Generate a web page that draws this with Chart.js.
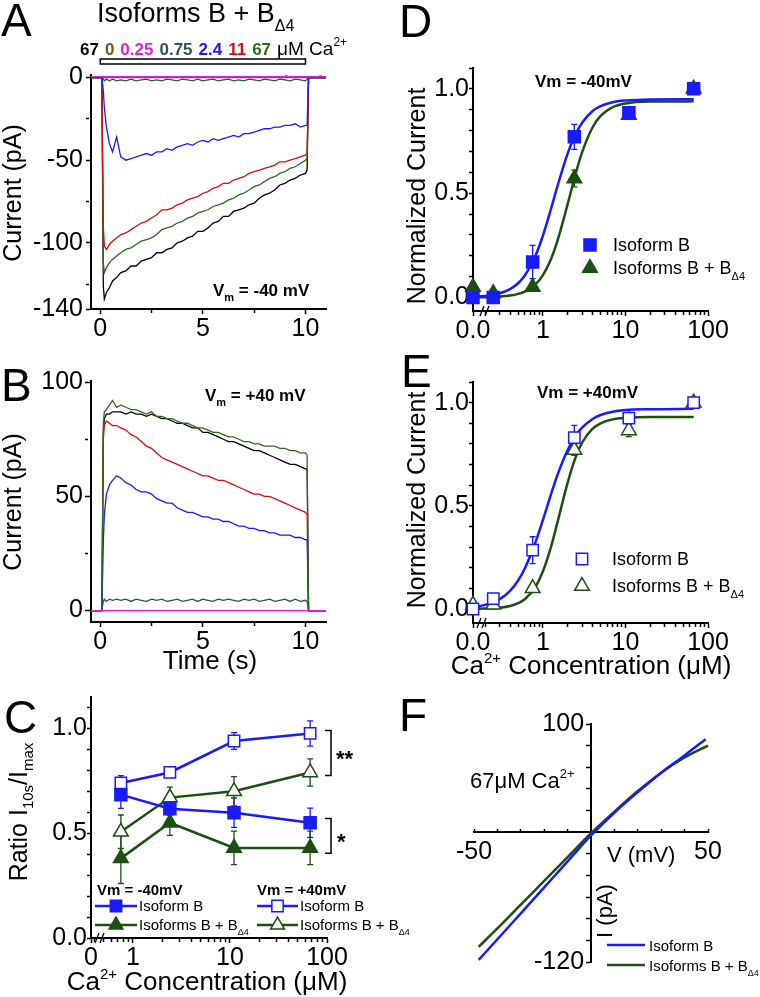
<!DOCTYPE html>
<html>
<head>
<meta charset="utf-8">
<title>Isoforms B + BΔ4</title>
<script src="https://cdn.jsdelivr.net/npm/chart.js@4.4.1/dist/chart.umd.min.js"></script>
<style>
  html, body { margin: 0; padding: 0; background: #fff; }
  #fig { position: relative; width: 760px; height: 997px; overflow: hidden; }
  #fig canvas { position: absolute; left: 0; top: 0; }
</style>
</head>
<body>
<div id="fig">
  <canvas id="panelA" width="760" height="997"></canvas>
  <canvas id="panelB" width="760" height="997"></canvas>
  <canvas id="panelC" width="760" height="997"></canvas>
  <canvas id="panelD" width="760" height="997"></canvas>
  <canvas id="panelE" width="760" height="997"></canvas>
  <canvas id="panelF" width="760" height="997"></canvas>
</div>
<script>
// ---- traces, panels A and B (time in s, current in pA) ----
const timeS = [-0.45, 0.08, 0.15, 0.2, 0.3, 0.45, 0.6, 0.8,
  1, 1.25, 1.5, 1.75, 2, 2.25, 2.5, 2.75, 3, 3.25, 3.5, 3.75, 4, 4.25, 4.5, 4.75, 5,
  5.25, 5.5, 5.75, 6, 6.25, 6.5, 6.75, 7, 7.25, 7.5, 7.75, 8, 8.25, 8.5, 8.75, 9,
  9.25, 9.5, 9.75, 10, 10.08, 10.15, 11];
const a_black67 = [0, 0, -126, -134, -130, -127, -123, -121,
  -118, -117, -114, -114, -111, -110, -109, -106, -106, -104, -103, -100, -99, -97, -96, -93, -93,
  -91, -88, -87, -84, -84, -81, -80, -79, -77, -76, -73, -71, -70, -68, -65, -64,
  -62, -61, -59, -58, -56, 0, 0];
const a_green67 = [0, 0, -112, -118, -115, -112, -110, -108,
  -106, -104, -103, -101, -99, -98, -97, -95, -92, -91, -90, -88, -87, -85, -84, -82, -81,
  -80, -78, -77, -76, -74, -73, -71, -70, -68, -66, -65, -63, -61, -60, -58, -57,
  -55, -54, -52, -50, -49, 0, 0];
const a_red11 = [0, 0, -90, -102, -104, -101, -99, -97,
  -95, -94, -92, -90, -88, -87, -85, -83, -80, -80, -79, -77, -76, -74, -73, -72, -70,
  -69, -67, -66, -64, -64, -62, -61, -60, -58, -57, -56, -55, -54, -53, -51, -51,
  -50, -49, -48, -47, -46, 0, 0];
const a_blue24 = [0, 0, -8, -18, -30, -40, -45, -36,
  -48, -50, -49, -48, -47, -46, -47, -45, -45, -43, -44, -42, -41, -40, -41, -39, -38,
  -39, -37, -38, -37, -36, -35, -36, -34, -34, -33, -32, -31, -31, -30, -30, -29,
  -29, -28, -30, -29, -29, 0, 0];
const a_teal075 = [0, 0, -1, -2, -1, -2, -1, -2,
  -1.5, -2, -1, -2, -1.5, -1, -2, -1.5, -2, -1, -1.5, -2, -1, -1.5, -2, -1, -2,
  -1.5, -1, -2, -1.5, -1, -2, -1.5, -2, -1, -1.5, -2, -1, -1.5, -2, -1, -1.5,
  -2, -1, -1.5, -2, -1, 0, 0];
const flatT = [-0.45, 11];
const a_olive0 = [0, 0];
const magT = [-0.45, 9.03, 9.06, 9.09, 10.7, 10.73, 10.76, 11];
const a_magenta025 = [0.5, 0.5, 5, 0.5, 0.5, 3, 0.5, 0.5];

const b_black67 = [0, 0, 78, 84, 86, 86, 87, 87,
  87, 86, 87, 86, 86, 85, 86, 85, 84, 84, 83, 82, 82, 81, 80, 80, 78,
  78, 77, 76, 75, 74, 74, 73, 72, 71, 70, 70, 69, 68, 67, 66, 65,
  64, 64, 63, 62, 62, 0, 0];
const b_green67 = [0, 0, 82, 87, 88, 90, 92, 89,
  90, 89, 88, 88, 87, 86, 87, 85, 85, 84, 84, 83, 82, 82, 81, 80, 80,
  79, 78, 78, 77, 76, 76, 75, 74, 74, 73, 73, 72, 72, 72, 71, 71,
  70, 70, 69, 69, 68, 0, 0];
const b_red11 = [0, 0, 75, 81, 83, 82, 81, 81,
  80, 79, 77, 76, 74, 72, 71, 69, 67, 66, 65, 64, 63, 62, 61, 60, 59,
  59, 58, 57, 57, 56, 55, 54, 53, 52, 51, 51, 50, 50, 49, 48, 47,
  46, 45, 44, 43, 42, 0, 0];
const b_blue24 = [0, 0, 30, 42, 51, 55, 57, 59,
  58, 56, 55, 53, 52, 52, 51, 49, 48, 47, 47, 45, 44, 43, 43, 42, 41,
  41, 40, 40, 39, 39, 38, 37, 37, 36, 36, 35, 35, 34, 34, 33, 33,
  33, 32, 32, 31, 31, 0, 0];
const b_teal075 = [0, 0, 4, 5, 4, 5, 4.5, 5,
  4.5, 5, 4, 5, 4.5, 4, 5, 4.5, 5, 4, 4.5, 5, 4, 4.5, 5, 4, 5,
  4.5, 4, 5, 4.5, 5, 4.5, 4, 5, 4.5, 5, 4, 4.5, 5, 4, 4.5, 5,
  4, 5, 4, 4.5, 4, 0, 0];
const b_olive0 = [0, 0];
const b_magenta025 = [0, 0];

const bathConc = ['67', '0', '0.25', '0.75', '2.4', '11', '67'];
const bathColors = ['#000', '#6e5e12', '#dd22dd', '#2b5555', '#1a1aff', '#d01010', '#2e6b1e'];

// ---- panel C: ratio I10s/Imax ----
const concC = [0.75, 2.4, 11, 67];
const ratioB_neg = [0.684, 0.617, 0.598, 0.55];
const errB_neg = [0.065, 0.03, 0.07, 0.07];
const ratioB_pos = [0.74, 0.79, 0.94, 0.976];
const errB_pos = [0.035, 0.01, 0.04, 0.06];
const ratioBD_neg = [0.38, 0.55, 0.43, 0.43];
const errBD_neg = [0.12, 0.06, 0.08, 0.08];
const ratioBD_pos = [0.507, 0.67, 0.70, 0.79];
const errBD_pos = [0.08, 0.05, 0.07, 0.065];

// ---- panels D and E: normalized current (0 is drawn at the axis break) ----
const concDE = [0, 0.25, 0.75, 2.4, 11, 67];
const normD_B = [0.0, 0.0, 0.17, 0.77, 0.885, 1.0];
const errD_B = [0, 0, 0.08, 0.06, 0.015, 0];
const normD_BD = [0.05, 0.02, 0.05, 0.57, 0.875, 1.0];
const errD_BD = [0, 0, 0.01, 0.04, 0.02, 0];
const normE_B = [0.0, 0.05, 0.285, 0.83, 0.925, 1.0];
const errE_B = [0, 0, 0.065, 0.06, 0.04, 0];
const normE_BD = [0.02, 0.02, 0.10, 0.77, 0.865, 1.0];
const errE_BD = [0, 0, 0.01, 0.025, 0.03, 0];
const fitConc = [0, 0.2, 0.3, 0.4, 0.5, 0.6, 0.8, 1, 1.25, 1.5, 2, 2.5, 3, 4, 5, 7, 10, 20, 67];
const fitD_B = [0.003, 0.007, 0.020, 0.040, 0.068, 0.104, 0.194, 0.297, 0.424, 0.534, 0.692, 0.785, 0.839, 0.894, 0.917, 0.936, 0.944, 0.949, 0.95];
const fitD_BD = [0.0005, 0.0013, 0.004, 0.009, 0.017, 0.028, 0.060, 0.107, 0.183, 0.272, 0.450, 0.596, 0.699, 0.816, 0.870, 0.912, 0.930, 0.939, 0.94];
const fitE_B = [0.009, 0.020, 0.048, 0.088, 0.138, 0.195, 0.316, 0.432, 0.555, 0.650, 0.772, 0.841, 0.880, 0.921, 0.940, 0.956, 0.964, 0.968, 0.97];
const fitE_BD = [0.001, 0.002, 0.006, 0.014, 0.028, 0.047, 0.103, 0.183, 0.300, 0.420, 0.615, 0.737, 0.808, 0.874, 0.900, 0.919, 0.926, 0.930, 0.93];

// ---- panel F: I-V at 67 uM Ca2+ ----
const ivV = [-48, -40, -30, -20, -10, 0, 10, 20, 30, 40, 49];
const ivB = [-118, -99, -75, -51, -27, -3, 18, 37, 55, 71, 86];
const ivV_BD = [-48, -40, -30, -20, -10, 0, 10, 20, 30, 40, 50];
const ivBD = [-106, -89, -67, -45, -23, -1, 19, 38, 55, 69, 80];

// ---- tick values and labels ----
const ticksTime = [0, 5, 10], ticksTimeLbl = ['0', '5', '10'], minorTime = [2.5, 7.5];
const ticksA = [0, -50, -100, -140], ticksALbl = ['0', '-50', '-100', '-140'], minorA = [-25, -75, -125];
const ticksB = [0, 50, 100], ticksBLbl = ['0', '50', '100'], minorB = [25, 75];
const ticksNorm = [0, 0.5, 1], ticksNormLbl = ['0.0', '0.5', '1.0'];
const minorNorm = [0.1, 0.2, 0.3, 0.4, 0.6, 0.7, 0.8, 0.9, 1.1];
const minorLog = [0.2, 0.3, 0.4, 0.5, 0.6, 0.7, 0.8, 0.9, 2, 3, 4, 5, 6, 7, 8, 9, 20, 30, 40, 50, 60, 70, 80, 90];
const ticksV = [-50, 50], ticksVLbl = ['-50', '50'], minorV = [-40, -30, -20, -10, 10, 20, 30, 40];
const ticksI = [100, -120], ticksILbl = ['100 ', '-120 '], minorI = [-100, -80, -60, -40, -20, 20, 40, 60, 80];

const FONT = "'Liberation Sans', Arial, Helvetica, sans-serif";
Chart.defaults.font.family = FONT;
Chart.defaults.color = '#000';

const BLUE = '#1a1aff', GREEN = '#1d4f12';
const LOGMIN_C = 0.369, LOGMIN_DE = 0.142;

const xy = (xs, ys) => xs.map((x, i) => ({x: x, y: ys[i]}));
const atMin = (xs, min) => xs.map(x => (x === 0 ? min : x));

function trace(xs, ys, color) {
  return {data: xy(xs, ys), borderColor: color, borderWidth: 1.3, pointRadius: 0, tension: 0};
}

function marks(xs, ys, color, style, filled, r, line) {
  return {
    data: xy(xs, ys), showLine: line, borderColor: color, borderWidth: 2.5,
    pointStyle: style, pointRadius: r, pointBackgroundColor: filled ? color : '#fff',
    pointBorderColor: color, pointBorderWidth: 1.5, tension: 0, clip: false
  };
}

function curve(xs, ys, color) {
  return {data: xy(xs, ys), borderColor: color, borderWidth: 2.5, pointRadius: 0,
    cubicInterpolationMode: 'monotone', clip: false};
}

// chart area in page pixels -> layout padding (y axis box yw wide, x axis box xh high)
function frame(l, t, r, b, yw, xh) {
  return {left: l - yw, top: t, right: 760 - r, bottom: 997 - b - xh};
}

function axis(o) {
  const isY = o.axis === 'y';
  return {
    type: o.type || 'linear',
    position: o.position || (isY ? 'left' : 'bottom'),
    min: o.min, max: o.max, bounds: 'data',
    afterBuildTicks: s => { s.ticks = o.major.concat(o.minor).map(v => ({value: v})); },
    afterFit: s => { if (isY) s.width = o.size; else s.height = o.size; },
    border: {display: true, color: '#000', width: 2},
    grid: {
      drawOnChartArea: false, drawTicks: true, tickLength: o.tick, tickColor: '#000', tickWidth: 1.5,
      tickBorderDash: c => (o.even || (c.tick && o.major.includes(c.tick.value))) ? [] : [3, 30]
    },
    ticks: {
      autoSkip: false, maxRotation: 0, padding: o.pad, color: '#000', font: {size: o.font || 25},
      callback: v => { const i = o.major.indexOf(v); return i < 0 ? '' : o.labels[i]; }
    }
  };
}

function base(padding, scales, errSets) {
  return {
    responsive: false, animation: false, devicePixelRatio: 1,
    layout: {padding: padding},
    plugins: {legend: {display: false}, tooltip: {enabled: false}, errorBars: {sets: errSets || []}},
    scales: scales
  };
}

// vertical error bars from the value arrays, drawn under the markers
const errorBars = {
  id: 'errorBars',
  beforeDatasetsDraw(chart, args, opts) {
    const ctx = chart.ctx, ys = chart.scales.y;
    (opts.sets || []).forEach(s => {
      const meta = chart.getDatasetMeta(s.ds);
      const data = chart.data.datasets[s.ds].data;
      ctx.save();
      ctx.strokeStyle = s.color;
      ctx.lineWidth = 1.3;
      meta.data.forEach((pt, i) => {
        const e = s.err[i];
        if (!e) return;
        const y1 = ys.getPixelForValue(data[i].y - e), y2 = ys.getPixelForValue(data[i].y + e);
        ctx.beginPath();
        ctx.moveTo(pt.x, y1); ctx.lineTo(pt.x, y2);
        ctx.moveTo(pt.x - 3, y1); ctx.lineTo(pt.x + 3, y1);
        ctx.moveTo(pt.x - 3, y2); ctx.lineTo(pt.x + 3, y2);
        ctx.stroke();
      });
      ctx.restore();
    });
  }
};
Chart.register(errorBars);

// text with sub/superscript runs: [text, size, dy, color, weight]
function rich(ctx, x, y, parts, o) {
  o = o || {};
  ctx.save();
  ctx.translate(x, y);
  if (o.rot) ctx.rotate(-Math.PI / 2);
  ctx.textBaseline = 'alphabetic';
  ctx.textAlign = 'left';
  const font = p => (p[4] || 'normal') + ' ' + p[1] + 'px ' + FONT;
  let w = 0;
  parts.forEach(p => { ctx.font = font(p); w += ctx.measureText(p[0]).width; });
  let cx = o.align === 'center' ? -w / 2 : (o.align === 'right' ? -w : 0);
  parts.forEach(p => {
    ctx.font = font(p);
    ctx.fillStyle = p[3] || '#000';
    ctx.fillText(p[0], cx, p[2] || 0);
    cx += ctx.measureText(p[0]).width;
  });
  ctx.restore();
  return w;
}

const vmSub = (s, size) => [['V', size, 0, '#000', 'bold'], ['m', Math.round(size * 0.65), Math.round(size * 0.3), '#000', 'bold'], [' = ' + s, size, 0, '#000', 'bold']];
const bDelta = size => [['Isoforms B + B', size], ['Δ4', Math.round(size * 0.6), Math.round(size * 0.35)]];

function breakMark(ctx, x, y) {
  ctx.save();
  ctx.strokeStyle = '#000';
  ctx.lineWidth = 1.3;
  ctx.beginPath();
  ctx.moveTo(x - 6, y + 5); ctx.lineTo(x - 2, y - 5);
  ctx.moveTo(x - 1, y + 5); ctx.lineTo(x + 3, y - 5);
  ctx.stroke();
  ctx.restore();
}

function bracket(ctx, x, y1, y2) {
  ctx.save();
  ctx.strokeStyle = '#000';
  ctx.lineWidth = 1.5;
  ctx.beginPath();
  ctx.moveTo(x - 6, y1); ctx.lineTo(x, y1); ctx.lineTo(x, y2); ctx.lineTo(x - 6, y2);
  ctx.stroke();
  ctx.restore();
}

function legendKey(ctx, x1, x2, y, color, style, filled, line, r) {
  ctx.save();
  if (line) {
    ctx.strokeStyle = color;
    ctx.lineWidth = 2.5;
    ctx.beginPath(); ctx.moveTo(x1, y); ctx.lineTo(x2, y); ctx.stroke();
  }
  if (style) {
    ctx.strokeStyle = color;
    ctx.fillStyle = filled ? color : '#fff';
    ctx.lineWidth = 1.5;
    Chart.helpers.drawPoint(ctx, {pointStyle: style, radius: r, borderWidth: 1.5, rotation: 0}, (x1 + x2) / 2, y);
  }
  ctx.restore();
}

function notes(id, fn) {
  return {id: id, afterDraw: chart => fn(chart.ctx, chart.scales)};
}

// ---------------- A ----------------
new Chart(document.getElementById('panelA'), {
  type: 'line',
  data: {datasets: [
    trace(magT, a_magenta025, '#dd22dd'),
    trace(timeS, a_teal075, '#2b5555'),
    trace(flatT, a_olive0, '#6e5e12'),
    trace(timeS, a_blue24, '#1a1aff'),
    trace(timeS, a_red11, '#d01010'),
    trace(timeS, a_green67, '#2e6b1e'),
    trace(timeS, a_black67, '#000')
  ]},
  options: base(frame(91, 75, 326, 309, 60, 40), {
    x: axis({axis: 'x', min: -0.45, max: 11, major: ticksTime, labels: ticksTimeLbl, minor: minorTime, size: 40, tick: 5, pad: 0}),
    y: axis({axis: 'y', min: -140, max: 1.5, major: ticksA, labels: ticksALbl, minor: minorA, size: 60, tick: 5, pad: 3})
  }),
  plugins: [notes('notesA', (ctx, sc) => {
    rich(ctx, 1, 36, [['A', 46]]);
    rich(ctx, 97, 22, [['Isoforms B + B', 27], ['Δ4', 16, 9]]);
    let x = 80;
    bathConc.forEach((c, i) => { x += rich(ctx, x, 55, [[c, 17, 0, bathColors[i], 'bold']]) + 6; });
    rich(ctx, x, 55, [['μM Ca', 19], ['2+', 12, -9]]);
    const x0 = sc.x.getPixelForValue(0), x10 = sc.x.getPixelForValue(10);
    ctx.save();
    ctx.strokeStyle = '#000'; ctx.lineWidth = 1.5;
    ctx.strokeRect(x0, 59, x10 - x0, 5);
    ctx.restore();
    rich(ctx, 213, 296, vmSub('-40 mV', 17));
    rich(ctx, 21, 193, [['Current (pA)', 25]], {rot: true, align: 'center'});
  })]
});

// ---------------- B ----------------
new Chart(document.getElementById('panelB'), {
  type: 'line',
  data: {datasets: [
    trace(flatT, b_magenta025, '#dd22dd'),
    trace(timeS, b_teal075, '#2b5555'),
    trace(flatT, b_olive0, '#6e5e12'),
    trace(timeS, b_green67, '#2e6b1e'),
    trace(timeS, b_blue24, '#1a1aff'),
    trace(timeS, b_red11, '#d01010'),
    trace(timeS, b_black67, '#000')
  ]},
  options: base(frame(91, 381, 326, 622, 60, 40), {
    x: axis({axis: 'x', min: -0.45, max: 11, major: ticksTime, labels: ticksTimeLbl, minor: minorTime, size: 40, tick: 5, pad: 0}),
    y: axis({axis: 'y', min: -5, max: 100.5, major: ticksB, labels: ticksBLbl, minor: minorB, size: 60, tick: 6, pad: 2})
  }),
  plugins: [notes('notesB', ctx => {
    rich(ctx, 1, 401, [['B', 46]]);
    rich(ctx, 205, 401, vmSub('+40 mV', 17));
    rich(ctx, 21, 502, [['Current (pA)', 25]], {rot: true, align: 'center'});
    rich(ctx, 210, 669, [['Time (s)', 26]], {align: 'center'});
  })]
});

// ---------------- C ----------------
new Chart(document.getElementById('panelC'), {
  type: 'line',
  data: {datasets: [
    marks(concC, ratioB_pos, BLUE, 'rect', false, 8, true),
    marks(concC, ratioB_neg, BLUE, 'rect', true, 8.5, true),
    marks(concC, ratioBD_pos, GREEN, 'triangle', false, 8.5, true),
    marks(concC, ratioBD_neg, GREEN, 'triangle', true, 8.5, true)
  ]},
  options: base(frame(91, 697, 327, 938, 60, 40), {
    x: axis({axis: 'x', type: 'logarithmic', min: LOGMIN_C, max: 100, major: [LOGMIN_C, 1, 10, 100], labels: ['0', '1', '10', '100'], minor: minorLog.slice(2), size: 40, tick: 5, pad: 0}),
    y: axis({axis: 'y', min: 0, max: 1.15, major: ticksNorm, labels: ticksNormLbl, minor: minorNorm, size: 60, tick: 4, pad: 0})
  }, [
    {ds: 0, err: errB_pos, color: BLUE}, {ds: 1, err: errB_neg, color: BLUE},
    {ds: 2, err: errBD_pos, color: GREEN}, {ds: 3, err: errBD_neg, color: GREEN}
  ]),
  plugins: [notes('notesC', (ctx, sc) => {
    rich(ctx, 4, 733, [['C', 46]]);
    rich(ctx, 27, 812, [['Ratio I', 25], ['10s', 15, 6], ['/I', 25], ['max', 15, 6]], {rot: true, align: 'center'});
    rich(ctx, 207, 990, [['Ca', 26], ['2+', 15, -11], [' Concentration (μM)', 26]], {align: 'center'});
    breakMark(ctx, 101, 938);
    rich(ctx, 97, 895, [['Vm = -40mV', 15, 0, '#000', 'bold']]);
    rich(ctx, 257, 895, [['Vm = +40mV', 15, 0, '#000', 'bold']]);
    legendKey(ctx, 95, 137, 906, BLUE, 'rect', true, true, 8);
    legendKey(ctx, 95, 137, 925, GREEN, 'triangle', true, true, 8);
    legendKey(ctx, 257, 298, 906, BLUE, 'rect', false, true, 8);
    legendKey(ctx, 257, 298, 925, GREEN, 'triangle', false, true, 8);
    rich(ctx, 139, 911, [['Isoform B', 15]]);
    rich(ctx, 139, 930, bDelta(15));
    rich(ctx, 300, 911, [['Isoform B', 15]]);
    rich(ctx, 300, 930, bDelta(15));
    const y = sc.y;
    bracket(ctx, 331, y.getPixelForValue(0.99), y.getPixelForValue(0.775));
    rich(ctx, 336, 766, [['**', 22, 0, '#000', 'bold']]);
    bracket(ctx, 331, y.getPixelForValue(0.57), y.getPixelForValue(0.405));
    rich(ctx, 337, 849, [['*', 22, 0, '#000', 'bold']]);
  })]
});

// ---------------- D ----------------
new Chart(document.getElementById('panelD'), {
  type: 'line',
  data: {datasets: [
    marks(atMin(concDE, LOGMIN_DE), normD_B, BLUE, 'rect', true, 8.5, false),
    marks(atMin(concDE, LOGMIN_DE), normD_BD, GREEN, 'triangle', true, 8.5, false),
    curve(atMin(fitConc, LOGMIN_DE), fitD_B, BLUE),
    curve(atMin(fitConc, LOGMIN_DE), fitD_BD, GREEN)
  ]},
  options: base(frame(473, 68, 708, 311, 60, 40), {
    x: axis({axis: 'x', type: 'logarithmic', min: LOGMIN_DE, max: 100, major: [LOGMIN_DE, 1, 10, 100], labels: ['0.0', '1', '10', '100'], minor: minorLog, size: 40, tick: 5, pad: 0}),
    y: axis({axis: 'y', min: -0.065, max: 1.1, major: ticksNorm, labels: ticksNormLbl, minor: minorNorm, size: 60, tick: 4, pad: 0})
  }, [{ds: 0, err: errD_B, color: BLUE}, {ds: 1, err: errD_BD, color: GREEN}]),
  plugins: [notes('notesD', ctx => {
    rich(ctx, 399, 37, [['D', 46]]);
    rich(ctx, 535, 87, [['Vm = -40mV', 17, 0, '#000', 'bold']]);
    rich(ctx, 425, 196, [['Normalized Current', 25]], {rot: true, align: 'center'});
    breakMark(ctx, 486, 311);
    legendKey(ctx, 580, 600, 245, BLUE, 'rect', true, false, 8.5);
    legendKey(ctx, 580, 600, 268, GREEN, 'triangle', true, false, 8.5);
    rich(ctx, 613, 251, [['Isoform B', 18]]);
    rich(ctx, 613, 274, bDelta(18));
  })]
});

// ---------------- E ----------------
new Chart(document.getElementById('panelE'), {
  type: 'line',
  data: {datasets: [
    marks(atMin(concDE, LOGMIN_DE), normE_B, BLUE, 'rect', false, 8, false),
    marks(atMin(concDE, LOGMIN_DE), normE_BD, GREEN, 'triangle', false, 8.5, false),
    curve(atMin(fitConc, LOGMIN_DE), fitE_B, BLUE),
    curve(atMin(fitConc, LOGMIN_DE), fitE_BD, GREEN)
  ]},
  options: base(frame(473, 382, 708, 623, 60, 40), {
    x: axis({axis: 'x', type: 'logarithmic', min: LOGMIN_DE, max: 100, major: [LOGMIN_DE, 1, 10, 100], labels: ['0.0', '1', '10', '100'], minor: minorLog, size: 40, tick: 5, pad: 0}),
    y: axis({axis: 'y', min: -0.068, max: 1.1, major: ticksNorm, labels: ticksNormLbl, minor: minorNorm, size: 60, tick: 4, pad: 0})
  }, [{ds: 0, err: errE_B, color: BLUE}, {ds: 1, err: errE_BD, color: GREEN}]),
  plugins: [notes('notesE', ctx => {
    rich(ctx, 401, 387, [['E', 46]]);
    rich(ctx, 537, 398, [['Vm = +40mV', 17, 0, '#000', 'bold']]);
    rich(ctx, 425, 500, [['Normalized Current', 25]], {rot: true, align: 'center'});
    rich(ctx, 591, 674, [['Ca', 26], ['2+', 15, -11], [' Concentration (μM)', 26]], {align: 'center'});
    breakMark(ctx, 483, 623);
    legendKey(ctx, 572, 592, 559, BLUE, 'rect', false, false, 8);
    legendKey(ctx, 572, 592, 586, GREEN, 'triangle', false, false, 8.5);
    rich(ctx, 612, 565, [['Isoform B', 18]]);
    rich(ctx, 612, 592, bDelta(18));
  })]
});

// ---------------- F ----------------
const fX = axis({axis: 'x', min: -50, max: 50, major: ticksV, labels: ticksVLbl, minor: minorV, size: 0, tick: -4, pad: 9, even: true});
fX.position = {y: 0};
const fY = axis({axis: 'y', min: -120, max: 100, major: ticksI, labels: ticksILbl, minor: minorI, size: 0, tick: 4, pad: 0, even: true});
fY.position = {x: 0};
new Chart(document.getElementById('panelF'), {
  type: 'line',
  data: {datasets: [
    curve(ivV, ivB, BLUE),
    curve(ivV_BD, ivBD, GREEN)
  ]},
  options: base({left: 474, top: 724, right: 52, bottom: 35}, {x: fX, y: fY}),
  plugins: [notes('notesF', ctx => {
    rich(ctx, 399, 731, [['F', 46]]);
    rich(ctx, 470, 788, [['67μM Ca', 22], ['2+', 13, -10]]);
    rich(ctx, 607, 862, [['V (mV)', 22]]);
    rich(ctx, 612, 911, [['I (pA)', 22]], {rot: true, align: 'center'});
    legendKey(ctx, 607, 645, 945, BLUE, null, true, true, 0);
    legendKey(ctx, 607, 645, 965, GREEN, null, true, true, 0);
    rich(ctx, 649, 951, [['Isoform B', 15]]);
    rich(ctx, 649, 971, bDelta(15));
  })]
});
</script>
</body>
</html>
